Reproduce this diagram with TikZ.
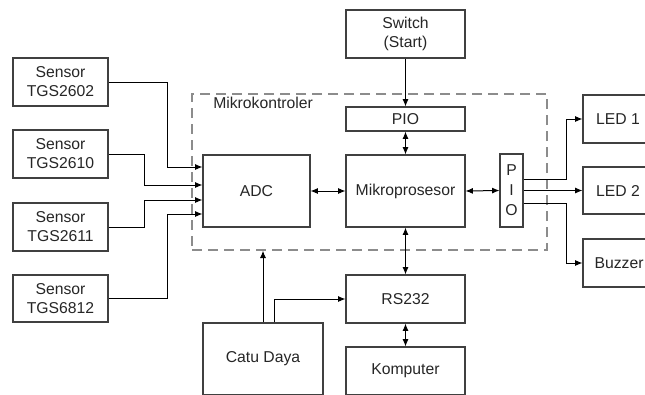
\documentclass[tikz,border=0pt]{standalone}
\usepackage{fontspec}
\setmainfont{Liberation Sans}
\usetikzlibrary{arrows.meta}
\newcommand\bx[7][]{\node[box,#1,minimum width={(#5-#3)*0.75pt},minimum height={(#6-#4)*0.75pt}] (#2) at ({(#3+#5)/2},{(#4+#6)/2}) {#7};}
\begin{document}
\begin{tikzpicture}[x=0.75pt,y=-0.75pt,
  box/.style={draw=black!75,line width=0.8pt,inner sep=0pt,align=center,
    text=black!85,font=\fontsize{11.8}{14.3}\selectfont},
  arr/.style={draw=black,line width=0.75pt,-{Latex[length=5.5pt,width=4.5pt]}},
  darr/.style={draw=black,line width=0.75pt,{Latex[length=5.5pt,width=4.5pt]}-{Latex[length=5.5pt,width=4.5pt]}},
  mkbox/.style={draw=black!45,line width=1pt,dash pattern=on 7.5pt off 4.5pt}]
\useasboundingbox (0,0) rectangle (645,394);
\clip (0,0) rectangle (645,394);
\fill[white] (0,0) rectangle (645,394);
% dashed microcontroller area
\bx[mkbox]{mk}{192}{94}{547}{250}{}
\node[anchor=west,text=black!85,font=\fontsize{11.8}{14.3}\selectfont,inner sep=0pt] (mklabel) at (213,103) {Mikrokontroler};
% sensors
\bx{s1}{13}{58}{108}{106}{Sensor\\TGS2602}
\bx{s2}{13}{130}{108}{178}{Sensor\\TGS2610}
\bx{s3}{13}{203}{108}{251}{Sensor\\TGS2611}
\bx{s4}{13}{275}{108}{322}{Sensor\\TGS6812}
% core blocks
\bx[fill=white]{adc}{203}{155}{310}{227}{ADC}
\bx[fill=white]{mp}{346}{155}{465}{227}{Mikroprosesor}
\bx[fill=white]{pio}{346}{107}{465}{131}{PIO}
\bx{sw}{346}{10}{465}{58}{Switch\\(Start)}
\bx{rs}{346}{275}{465}{323}{RS232}
\bx{komp}{346}{347}{465}{395}{Komputer}
\bx{catu}{203}{323}{323}{395}{Catu Daya}
\bx[fill=white,font=\fontsize{11.8}{15}\selectfont]{pio2}{500}{154}{523}{227}{P\\I\\O}
% outputs
\bx{led1}{583}{95}{653}{143}{LED 1}
\bx{led2}{583}{167}{653}{214}{LED 2}
\bx{buzz}{583}{239}{655}{287}{Buzzer}
% sensor connectors
\draw[arr] (s1.east) -| (167,167) -- (adc.west |- {(0,167)});
\draw[arr] (s2.east) -| (144,185) -- (adc.west |- {(0,185)});
\draw[arr] (s3.east) -| (144,200) -- (adc.west |- {(0,200)});
\draw[arr] (s4.east) -| (167,214) -- (adc.west |- {(0,214)});
% internal
\draw[darr] (adc.east) -- (mp.west);
\draw[arr] (sw.south) -- (pio.north);
\draw[darr] (pio.south) -- (mp.north);
\draw[darr] (mp.south) -- (rs.north);
\draw[darr] (rs.south) -- (komp.north);
\draw[darr] (mp.east) -- (pio2.west);
% power
\draw[arr] (catu.north) -- (catu.north |- mk.south);
\draw[arr] (catu.north -| {(274,0)}) |- (rs.west);
% outputs
\draw[arr] (pio2.east |- {(0,179)}) -- (566,179) |- (led1.west);
\draw[arr] (pio2.east) -- (led2.west);
\draw[arr] (pio2.east |- {(0,203)}) -- (566,203) |- (buzz.west);
\end{tikzpicture}
\end{document}
